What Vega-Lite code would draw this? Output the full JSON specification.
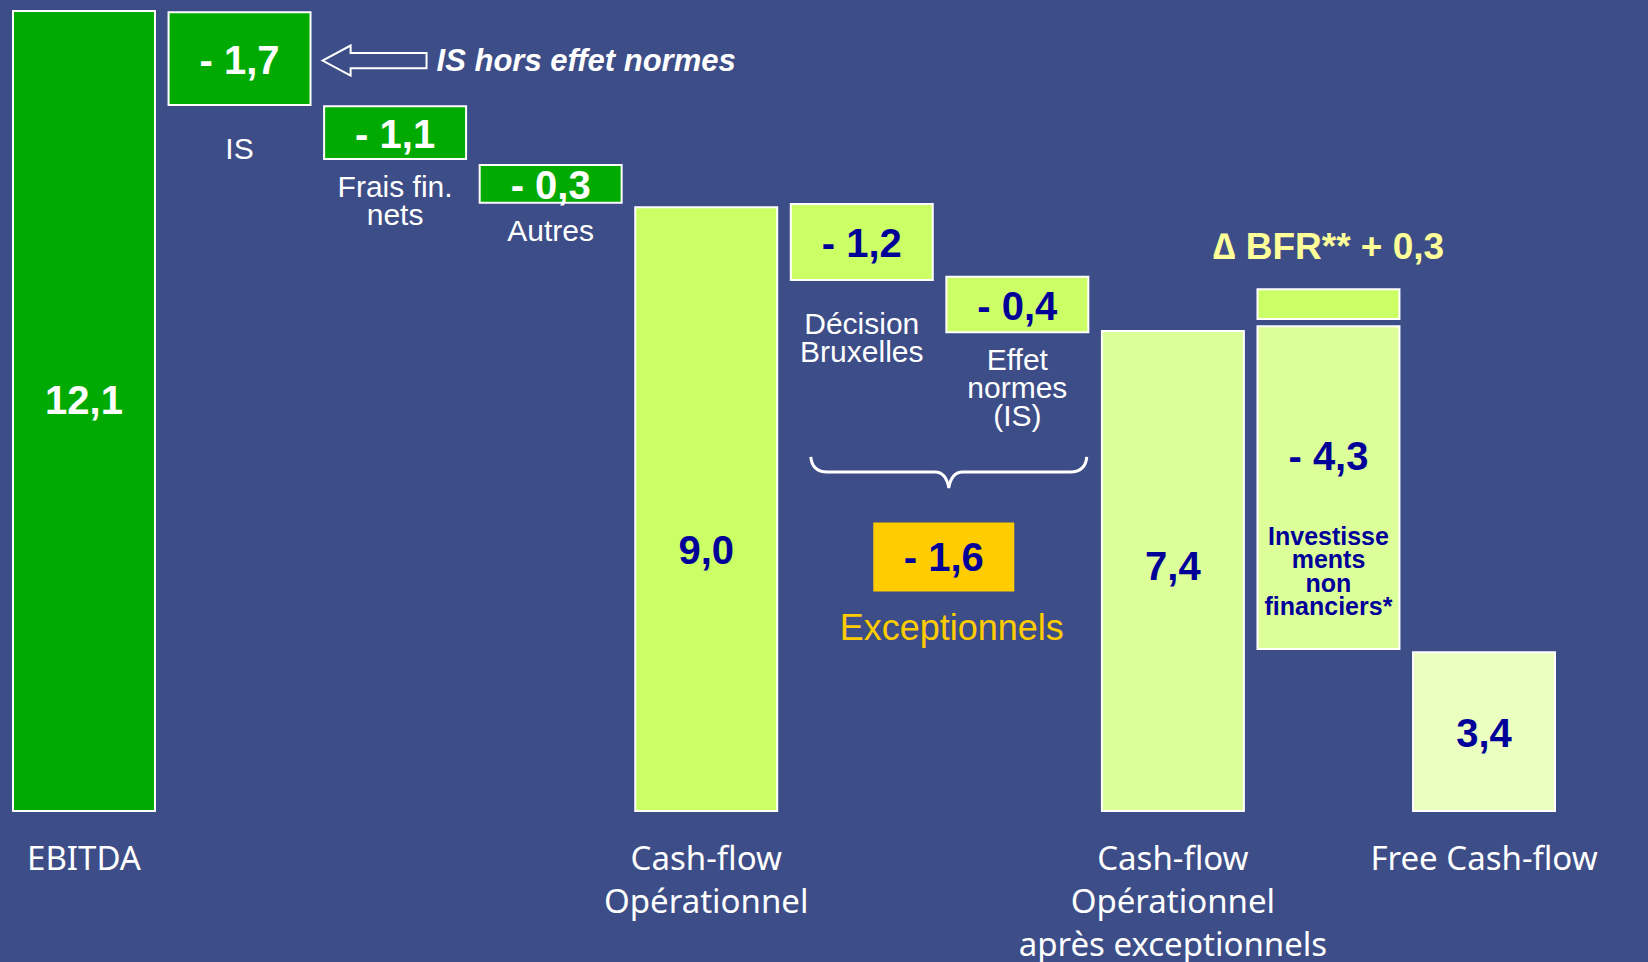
{
  "$schema": "https://vega.github.io/schema/vega-lite/v6.json",
  "width": 1542,
  "height": 800,
  "autosize": {"type": "none"},
  "padding": {"left": 13, "top": 11, "right": 93, "bottom": 151},
  "background": "#3D4D87",
  "config": {"view": {"stroke": null}, "text": {"font": "Liberation Sans"}},
  "data": {"values": [
    {"item": "ebitda", "step": "EBITDA", "y0": 0, "y1": 12.1, "kind": "vert", "label": "12,1"},
    {"item": "is", "step": "IS", "y0": 10.68, "y1": 12.08, "kind": "vert", "label": "- 1,7", "sub": "IS", "note": "IS hors effet normes"},
    {"item": "frais", "step": "Frais fin. nets", "y0": 9.86, "y1": 10.66, "kind": "vert", "label": "- 1,1", "sub": "Frais fin.\nnets"},
    {"item": "autres", "step": "Autres", "y0": 9.2, "y1": 9.77, "kind": "vert", "label": "- 0,3", "sub": "Autres"},
    {"item": "cfo", "step": "Cash-flow Opérationnel", "y0": 0, "y1": 9.13, "kind": "citron", "label": "9,0"},
    {"item": "decision", "step": "Décision Bruxelles", "y0": 8.03, "y1": 9.18, "kind": "citron", "label": "- 1,2", "sub": "Décision\nBruxelles", "total": "- 1,6", "group": "Exceptionnels"},
    {"item": "effet", "step": "Effet normes (IS)", "y0": 7.24, "y1": 8.08, "kind": "citron", "label": "- 0,4", "sub": "Effet\nnormes\n(IS)"},
    {"item": "cfoapres", "step": "Cash-flow Opérationnel après exceptionnels", "y0": 0, "y1": 7.26, "kind": "pale", "label": "7,4"},
    {"item": "bfr", "step": "Investissements non financiers", "y0": 7.44, "y1": 7.89, "kind": "citron", "note": "∆ BFR** + 0,3"},
    {"item": "invest", "step": "Investissements non financiers", "y0": 2.45, "y1": 7.33, "kind": "pale", "label": "- 4,3", "sub": "Investisse\nments\nnon\nfinanciers*"},
    {"item": "fcf", "step": "Free Cash-flow", "y0": 0, "y1": 2.4, "kind": "clair", "label": "3,4"}
  ]},
  "transform": [{"calculate": "(datum.y0 + datum.y1) / 2", "as": "mid"}],
  "encoding": {
    "x": {
      "field": "step", "type": "nominal", "sort": null,
      "scale": {"paddingInner": 0.0874, "paddingOuter": 0},
      "axis": {
        "title": null, "domain": false, "ticks": false, "tickSize": 0, "labelAngle": 0,
        "labelFont": "Noto Sans", "labelFontSize": 33, "labelColor": "white",
        "labelLineHeight": 43, "labelPadding": 32, "labelLimit": 500, "labelOverlap": false,
        "labelExpr": "datum.value == 'EBITDA' ? 'EBITDA' : datum.value == 'Cash-flow Opérationnel' ? ['Cash-flow', 'Opérationnel'] : datum.value == 'Cash-flow Opérationnel après exceptionnels' ? ['Cash-flow', 'Opérationnel', 'après exceptionnels'] : datum.value == 'Free Cash-flow' ? 'Free Cash-flow' : ''"
      }
    }
  },
  "layer": [
    {
      "mark": {"type": "bar", "stroke": "white", "strokeWidth": 2},
      "encoding": {
        "y": {"field": "y1", "type": "quantitative", "scale": {"domain": [0, 12.1], "nice": false}, "axis": null},
        "y2": {"field": "y0"},
        "color": {"field": "kind", "type": "nominal", "legend": null,
          "scale": {"domain": ["vert", "citron", "pale", "clair"], "range": ["#00AA00", "#CCFF66", "#DDFF99", "#EAFFC0"]}}
      }
    },
    {
      "transform": [{"filter": "datum.item == 'is' || datum.item == 'frais' || datum.item == 'autres' || datum.item == 'decision' || datum.item == 'effet' || datum.item == 'fcf'"}],
      "mark": {"type": "text", "fontSize": 40, "fontWeight": "bold", "baseline": "middle", "dy": 3},
      "encoding": {
        "y": {"field": "mid", "type": "quantitative", "scale": {"domain": [0, 12.1], "nice": false}},
        "text": {"field": "label"},
        "color": {"condition": {"test": "datum.kind == 'vert'", "value": "white"}, "value": "#000099"}
      }
    },
    {
      "transform": [{"filter": "datum.item == 'ebitda'"}],
      "mark": {"type": "text", "fontSize": 40, "fontWeight": "bold", "baseline": "middle", "dy": -9, "color": "white"},
      "encoding": {
        "y": {"field": "mid", "type": "quantitative", "scale": {"domain": [0, 12.1], "nice": false}},
        "text": {"field": "label"}
      }
    },
    {
      "transform": [{"filter": "datum.item == 'cfoapres'"}],
      "mark": {"type": "text", "fontSize": 40, "fontWeight": "bold", "baseline": "middle", "dy": -3, "color": "#000099"},
      "encoding": {
        "y": {"field": "mid", "type": "quantitative", "scale": {"domain": [0, 12.1], "nice": false}},
        "text": {"field": "label"}
      }
    },
    {
      "transform": [{"filter": "datum.item == 'cfo'"}],
      "mark": {"type": "text", "fontSize": 40, "fontWeight": "bold", "baseline": "middle", "dy": 43, "color": "#000099"},
      "encoding": {
        "y": {"field": "mid", "type": "quantitative", "scale": {"domain": [0, 12.1], "nice": false}},
        "text": {"field": "label"}
      }
    },
    {
      "transform": [{"filter": "datum.item == 'invest'"}],
      "mark": {"type": "text", "fontSize": 40, "fontWeight": "bold", "baseline": "middle", "dy": -30, "color": "#000099"},
      "encoding": {
        "y": {"field": "mid", "type": "quantitative", "scale": {"domain": [0, 12.1], "nice": false}},
        "text": {"field": "label"}
      }
    },
    {
      "transform": [{"filter": "datum.item == 'invest'"}],
      "mark": {"type": "text", "fontSize": 25, "fontWeight": "bold", "baseline": "alphabetic", "dy": 57, "lineHeight": 23.5, "lineBreak": "\n", "color": "#000099"},
      "encoding": {
        "y": {"field": "mid", "type": "quantitative", "scale": {"domain": [0, 12.1], "nice": false}},
        "text": {"field": "sub"}
      }
    },
    {
      "transform": [{"filter": "datum.item == 'is' || datum.item == 'decision'"}],
      "mark": {"type": "text", "fontSize": 30, "baseline": "alphabetic", "dy": 54, "lineHeight": 28, "lineBreak": "\n", "color": "white"},
      "encoding": {
        "y": {"field": "y0", "type": "quantitative", "scale": {"domain": [0, 12.1], "nice": false}},
        "text": {"field": "sub"}
      }
    },
    {
      "transform": [{"filter": "datum.item == 'frais' || datum.item == 'autres' || datum.item == 'effet'"}],
      "mark": {"type": "text", "fontSize": 30, "baseline": "alphabetic", "dy": 38, "lineHeight": 28, "lineBreak": "\n", "color": "white"},
      "encoding": {
        "y": {"field": "y0", "type": "quantitative", "scale": {"domain": [0, 12.1], "nice": false}},
        "text": {"field": "sub"}
      }
    },
    {
      "transform": [{"filter": "datum.item == 'is'"}],
      "mark": {"type": "point", "shape": "M -1 0 L -0.46 -0.29 L -0.46 -0.146 L 1 -0.146 L 1 0.146 L -0.46 0.146 L -0.46 0.29 Z", "size": 10816, "filled": false, "color": "white", "strokeWidth": 2, "opacity": 1, "xOffset": 135, "yOffset": 2},
      "encoding": {
        "y": {"field": "mid", "type": "quantitative", "scale": {"domain": [0, 12.1], "nice": false}}
      }
    },
    {
      "transform": [{"filter": "datum.item == 'is'"}],
      "mark": {"type": "text", "fontSize": 31, "fontWeight": "bold", "fontStyle": "italic", "align": "left", "baseline": "middle", "dx": 197, "dy": 3, "color": "white"},
      "encoding": {
        "y": {"field": "mid", "type": "quantitative", "scale": {"domain": [0, 12.1], "nice": false}},
        "text": {"field": "note"}
      }
    },
    {
      "transform": [{"filter": "datum.item == 'decision'"}],
      "mark": {"type": "point", "shape": "M -1 -0.11 Q -0.99 0 -0.88 0 L -0.1 0 Q -0.02 0 0 0.115 Q 0.02 0 0.1 0 L 0.88 0 Q 0.99 0 1 -0.11", "size": 76176, "filled": false, "color": "white", "strokeWidth": 3, "opacity": 1, "xOffset": 87, "yOffset": 192},
      "encoding": {
        "y": {"field": "y0", "type": "quantitative", "scale": {"domain": [0, 12.1], "nice": false}}
      }
    },
    {
      "transform": [{"filter": "datum.item == 'decision'"}],
      "mark": {"type": "point", "shape": "M -1 -0.489 L 1 -0.489 L 1 0.489 L -1 0.489 Z", "size": 19881, "filled": true, "color": "#FFCC00", "strokeWidth": 0, "opacity": 1, "xOffset": 82, "yOffset": 277},
      "encoding": {
        "y": {"field": "y0", "type": "quantitative", "scale": {"domain": [0, 12.1], "nice": false}}
      }
    },
    {
      "transform": [{"filter": "datum.item == 'decision'"}],
      "mark": {"type": "text", "fontSize": 40, "fontWeight": "bold", "baseline": "middle", "dx": 82, "dy": 279, "color": "#000099"},
      "encoding": {
        "y": {"field": "y0", "type": "quantitative", "scale": {"domain": [0, 12.1], "nice": false}},
        "text": {"field": "total"}
      }
    },
    {
      "transform": [{"filter": "datum.item == 'decision'"}],
      "mark": {"type": "text", "fontSize": 36, "baseline": "middle", "dx": 90, "dy": 349, "color": "#FFCC00"},
      "encoding": {
        "y": {"field": "y0", "type": "quantitative", "scale": {"domain": [0, 12.1], "nice": false}},
        "text": {"field": "group"}
      }
    },
    {
      "transform": [{"filter": "datum.item == 'bfr'"}],
      "mark": {"type": "text", "fontSize": 37, "fontWeight": "bold", "baseline": "middle", "dy": -41, "color": "#FFFF99"},
      "encoding": {
        "y": {"field": "y1", "type": "quantitative", "scale": {"domain": [0, 12.1], "nice": false}},
        "text": {"field": "note"}
      }
    }
  ]
}
